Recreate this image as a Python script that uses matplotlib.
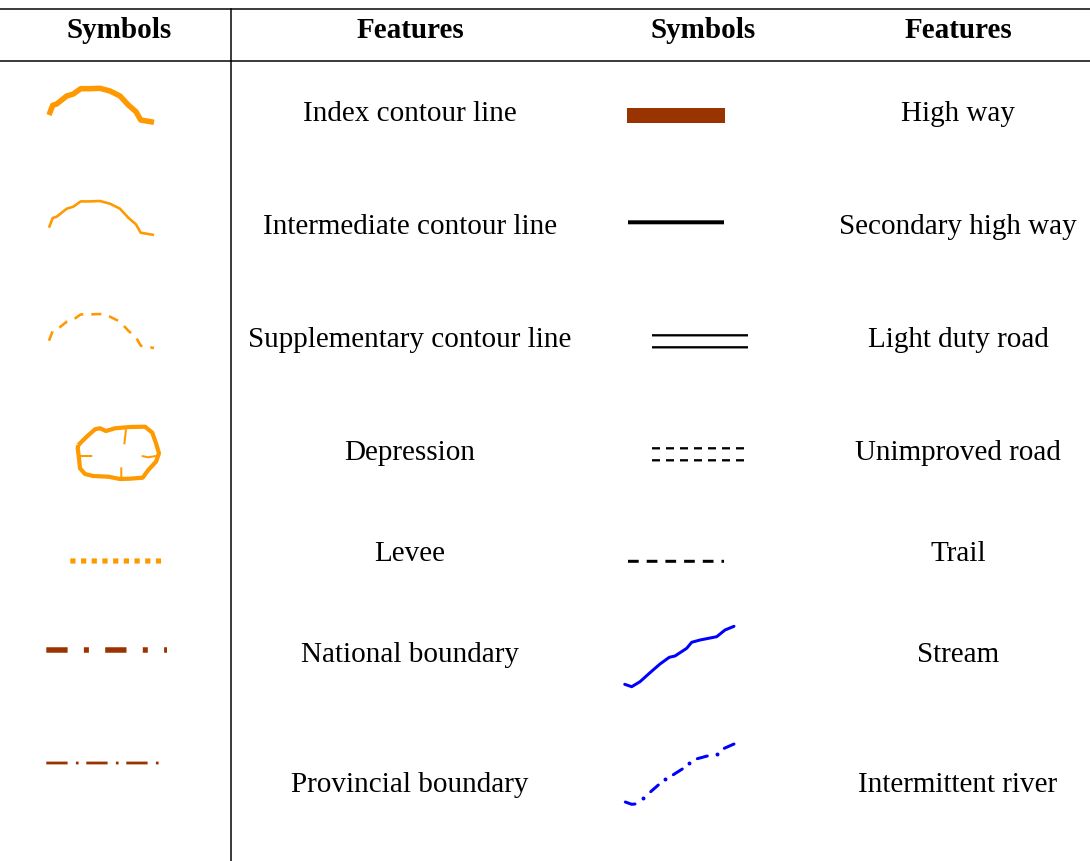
import matplotlib
matplotlib.use("Agg")
import matplotlib.pyplot as plt
from matplotlib.patches import Rectangle

ORANGE = "#FF9900"
BROWN = "#993300"
BLUE = "#0000FF"

headers = ["Symbols", "Features", "Symbols", "Features"]
header_x = [119, 410, 703, 958]
left_features = ["Index contour line", "Intermediate contour line", "Supplementary contour line",
                 "Depression", "Levee", "National boundary", "Provincial boundary"]
right_features = ["High way", "Secondary high way", "Light duty road", "Unimproved road",
                  "Trail", "Stream", "Intermittent river"]
row_y = [111, 224, 337, 450, 551, 652, 782]

# traced outlines, in pixels of the source image
contour_x = [49, 52.7, 56.7, 66.7, 73.3, 80.7, 90, 100, 110, 120, 128.3, 136, 140.7, 154]
contour_y = [115, 105.3, 104, 96, 94, 88.7, 88.7, 88.3, 91, 96, 105, 111.7, 120, 122.3]
depression_x = [78.3, 86.7, 95, 100, 106, 115, 130, 145, 152.3, 156, 159, 156, 148.3, 142.7,
                130, 120, 108.3, 93.3, 85, 80, 79, 77.7, 78.3]
depression_y = [445, 436.7, 429.3, 428.3, 431, 428.3, 427, 426.7, 432.7, 443.3, 453.3, 461.7,
                470, 477.7, 478.7, 479, 476.7, 476, 474, 468.3, 458.3, 448.3, 445]
depression_ticks = [([126, 124.3], [429.3, 444.3]), ([80, 92.3], [456, 456]),
                    ([141.7, 148.3, 156], [456, 457.3, 456]), ([121.3, 121.3], [467.3, 478.3])]
stream_x = [624.7, 631.7, 640, 650, 660, 669.3, 675, 686.7, 691.7, 700, 716.7, 725, 734]
stream_y = [684.3, 686.7, 681.7, 672.7, 664, 657.3, 656, 648.3, 642.3, 640, 636.7, 630, 626.3]
river_dashes = [([625.3, 631.7, 635], [802, 804.3, 804]), ([650.7, 658.3], [791.7, 785]),
                ([673.3, 682.3], [774.7, 769]), ([697.3, 707.3], [758.7, 756]),
                ([724.3, 734], [748.3, 744])]
river_dots_x = [643, 665, 689.3, 716.7]
river_dots_y = [798.3, 778.7, 763.3, 754]

fig, ax = plt.subplots(figsize=(10.9, 8.61), dpi=100)
fig.subplots_adjust(0, 0, 1, 1)
ax.set_xlim(0, 1090)
ax.set_ylim(861, 0)
ax.axis("off")
plt.rcParams["font.family"] = ["Liberation Serif", "DejaVu Serif"]


def px(w):
  return w * 0.72


def styled(xs, ys, color, width, pattern=None, cap="butt"):
  line, = ax.plot(xs, ys, color=color, lw=px(width), solid_capstyle=cap, dash_capstyle=cap,
                  solid_joinstyle="round", dash_joinstyle="round")
  line.set_snap(False)
  if pattern:
    line.set_linestyle((0, [p / width for p in pattern]))
  return line


# table rules
ax.plot([0, 1090], [9, 9], color="black", lw=px(1.5))
ax.plot([0, 1090], [61, 61], color="black", lw=px(1.5))
ax.plot([231, 231], [9, 861], color="black", lw=px(1.5))

for x, label in zip(header_x, headers):
  ax.text(x, 31, label, ha="center", va="center", fontsize=21, fontweight="bold")
for y, left, right in zip(row_y, left_features, right_features):
  ax.text(410, y + 3, left, ha="center", va="center", fontsize=21)
  ax.text(958, y + 3, right, ha="center", va="center", fontsize=21)

# left symbols
styled(contour_x, contour_y, ORANGE, 5.5)
styled(contour_x, [v + 112.7 for v in contour_y], ORANGE, 2.6)
styled(contour_x, [v + 225.7 for v in contour_y], ORANGE, 2.6, (10, 8))
styled(depression_x, depression_y, ORANGE, 4.2)
for xs, ys in depression_ticks:
  styled(xs, ys, ORANGE, 2)
styled([70.3, 161.5], [561, 561], ORANGE, 5.2, (5.2, 5.5))
styled([46.3, 167], [650, 650], BROWN, 5.5, (21.3, 16.3, 5, 16.3))
styled([46.3, 159], [763, 763], BROWN, 2.8, (21.3, 8.3, 2.7, 7.7))

# right symbols
ax.add_patch(Rectangle((627, 108), 98, 15, facecolor=BROWN, edgecolor="none"))
styled([628, 724], [222.3, 222.3], "black", 4)
styled([652, 748], [335.3, 335.3], "black", 2.3)
styled([652, 748], [347.3, 347.3], "black", 2.3)
styled([652, 744], [448.3, 448.3], "black", 2.3, (8, 6))
styled([652, 744], [460.3, 460.3], "black", 2.3, (8, 6))
styled([628, 724], [561.3, 561.3], "black", 3, (10.7, 8))
styled(stream_x, stream_y, BLUE, 3, cap="round")
for xs, ys in river_dashes:
  styled(xs, ys, BLUE, 3, cap="round")
ax.scatter(river_dots_x, river_dots_y, s=8, color=BLUE, linewidths=0)

fig.savefig("out.png", dpi=100)
